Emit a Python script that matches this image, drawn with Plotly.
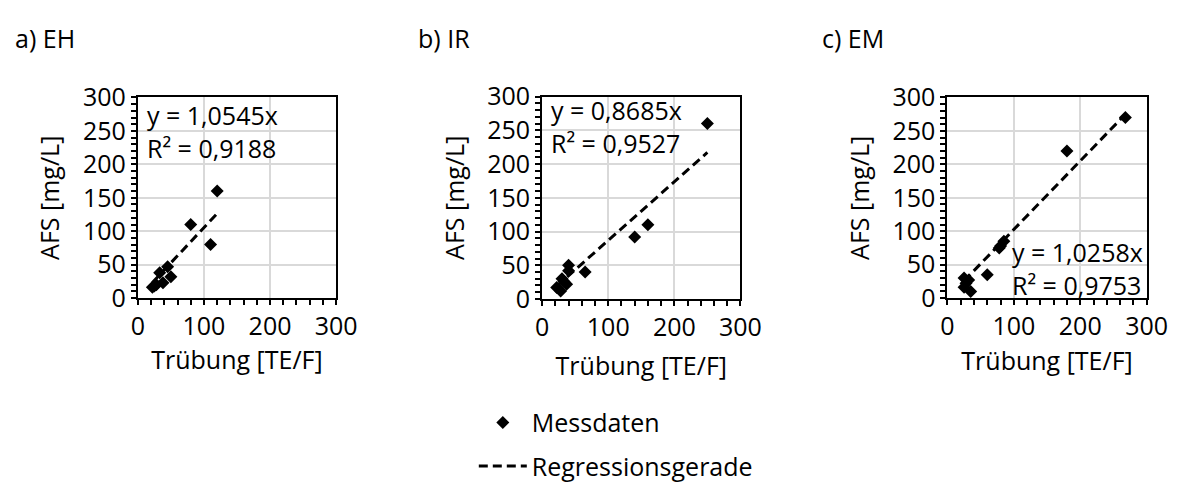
import plotly.graph_objects as go

# ---- data ----
panel_titles = ["a) EH", "b) IR", "c) EM"]
eh_x = [120, 80, 110, 45, 33, 50, 38, 22, 28, 25]
eh_y = [160, 110, 80, 47, 38, 32, 23, 16, 20, 18]
ir_x = [250, 160, 140, 65, 40, 40, 30, 37, 22, 28, 33]
ir_y = [260, 110, 92, 40, 50, 42, 30, 22, 17, 12, 26]
em_x = [268, 180, 85, 80, 78, 60, 25, 32, 25, 35, 28]
em_y = [270, 220, 85, 78, 75, 35, 30, 27, 16, 10, 22]
slopes = [1.0545, 0.8685, 1.0258]
r2 = ["0,9188", "0,9527", "0,9753"]
slope_labels = ["1,0545", "0,8685", "1,0258"]
tick_vals = [0, 50, 100, 150, 200, 250, 300]
x_title = "Trübung [TE/F]"
y_title = "AFS [mg/L]"
legend_names = ["Messdaten", "Regressionsgerade"]

FONT = "Open Sans"
FS = 25
W, H = 1195, 489

xs = [eh_x, ir_x, em_x]
ys = [eh_y, ir_y, em_y]

# pixel boxes of plot areas (left, right, top, bottom)
boxes = [(134, 337, 86, 303), (548, 751, 85, 304), (963, 1167, 86, 303)]
xtitle_standoff = [4, 16, 11]
# equation block position in data units (x, y of block centre)
eq_pos = [(11, 249), (11, 256), (94, 44)]

fig = go.Figure()

tf = dict(family=FONT, size=FS, color="black")

for i in range(3):
    sfx = "" if i == 0 else str(i + 1)
    xa, ya = "x" + sfx, "y" + sfx
    x0, x1 = min(xs[i]), max(xs[i])
    fig.add_trace(go.Scatter(
        x=xs[i], y=ys[i], mode="markers", xaxis=xa, yaxis=ya,
        marker=dict(symbol="diamond", size=10, color="black"),
        name=legend_names[0], showlegend=(i == 0), legendgroup="m",
        cliponaxis=False))
    fig.add_trace(go.Scatter(
        x=[x0, x1], y=[slopes[i] * x0, slopes[i] * x1], mode="lines",
        xaxis=xa, yaxis=ya,
        line=dict(color="black", width=3, dash="9px,5px"),
        name=legend_names[1], showlegend=(i == 0), legendgroup="r"))

    l, r, t, b = boxes[i]
    common = dict(
        range=[0, 300], showline=True, linecolor="black", linewidth=2,
        mirror=True, ticks="outside", ticklen=5, tickwidth=2,
        tickcolor="black", showgrid=True, gridcolor="#d9d9d9", gridwidth=1.5,
        zeroline=False, tickfont=tf, fixedrange=True)
    fig.layout["xaxis" + sfx] = dict(
        common, domain=[l / W, r / W], anchor=ya, dtick=100,
        minor=dict(dtick=20, ticks="outside", ticklen=5, tickwidth=2,
                   tickcolor="black", showgrid=False),
        title=dict(text=x_title, standoff=xtitle_standoff[i], font=tf))
    fig.layout["yaxis" + sfx] = dict(
        common, domain=[1 - b / H, 1 - t / H], anchor=xa,
        tickvals=tick_vals,
        minor=dict(dtick=10, ticks="outside", ticklen=5, tickwidth=2,
                   tickcolor="black", showgrid=False),
        title=dict(text=y_title, standoff=16, font=tf))

annotations = []
title_x = [6, 419, 833]
for i in range(3):
    annotations.append(dict(
        text=panel_titles[i], xref="paper", yref="paper",
        x=title_x[i] / W, y=1 - 22 / H, xanchor="left", yanchor="middle",
        showarrow=False, font=tf))

for i in range(3):
    sfx = "" if i == 0 else str(i + 1)
    ex, ey = eq_pos[i]
    annotations.append(dict(
        text=f"y = {slope_labels[i]}x<br>R² = {r2[i]}",
        xref="x" + sfx, yref="y" + sfx, x=ex, y=ey, xanchor="left",
        yanchor="middle", align="left", showarrow=False, font=tf))

fig.update_layout(
    width=W, height=H, margin=dict(l=0, r=0, t=0, b=0),
    paper_bgcolor="white", plot_bgcolor="white",
    annotations=annotations,
    showlegend=True,
    legend=dict(x=478 / W, y=1 - 413 / H, xanchor="left", yanchor="top",
                font=tf, traceorder="grouped", tracegroupgap=8,
                bgcolor="rgba(0,0,0,0)", itemwidth=48),
)

fig.write_html("out.html")
